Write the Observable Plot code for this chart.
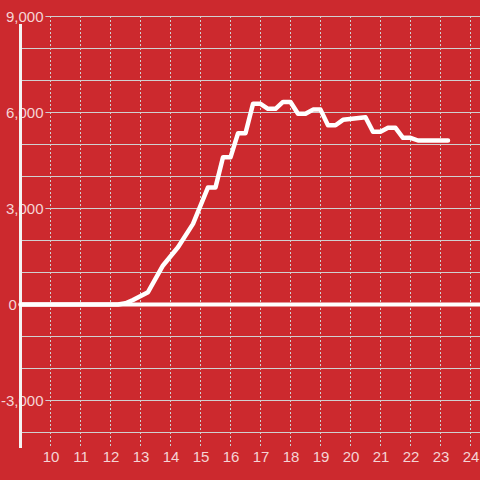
<!DOCTYPE html>
<html>
<head>
<meta charset="utf-8">
<script src="https://cdn.jsdelivr.net/npm/d3@7"></script>
<script src="https://cdn.jsdelivr.net/npm/@observablehq/plot@0.6"></script>
<style>
  html, body { margin: 0; padding: 0; background: #cc292e; }
  #chart svg { display: block; }
</style>
</head>
<body>
<div id="chart"></div>
<script>
// Series (hour of day -> value)
const hours = [9, 12.25, 12.5, 12.75, 13.25, 13.75, 14.25, 14.75, 15.25, 15.5, 15.75, 16, 16.25, 16.5,
  16.75, 17, 17.25, 17.5, 17.75, 18, 18.25, 18.5, 18.75, 19, 19.25, 19.5, 19.75, 20.5,
  20.75, 21, 21.25, 21.5, 21.75, 22, 22.25, 23.25];
const values = [0, 0, 40, 140, 385, 1220, 1790, 2520, 3660, 3660, 4600, 4600, 5350, 5350,
  6270, 6270, 6115, 6115, 6330, 6330, 5960, 5960, 6090, 6090, 5600, 5600, 5770, 5850,
  5400, 5400, 5520, 5520, 5210, 5210, 5125, 5125];

// Axes
const xTicks = [10, 11, 12, 13, 14, 15, 16, 17, 18, 19, 20, 21, 22, 23, 24];
const yGridValues = [-4000, -3000, -2000, -1000, 0, 1000, 2000, 3000, 4000, 5000, 6000, 7000, 8000, 9000];
const yTickValues = [9000, 6000, 3000, -3000];
const yTickLabels = ["9,000", "6,000", "3,000", "-3,000"];
const zeroLabel = ["0"];
const xDomain = [9, 24 + 1 / 3];
const yDomain = [-4500, 9000];
const axisTop = 8750;

const bg = "#cc292e";
const labelColor = "#f5d4d5";
const gridColor = "#d0d0d0";

const data = hours.map((h, i) => ({ h, v: values[i] }));

const chart = Plot.plot({
  width: 480,
  height: 480,
  marginLeft: 20,
  marginRight: 0,
  marginTop: 16,
  marginBottom: 32,
  style: { background: bg, fontFamily: "'Liberation Sans', Arial, sans-serif", fontSize: "15px" },
  x: { domain: xDomain, axis: null },
  y: { domain: yDomain, axis: null },
  marks: [
    Plot.gridX(xTicks, { stroke: gridColor, strokeOpacity: 1, strokeDasharray: "2,2" }),
    Plot.gridY(yGridValues, { stroke: gridColor, strokeOpacity: 1 }),
    Plot.text(yTickValues, {
      y: d => d, text: (d, i) => yTickLabels[i], frameAnchor: "left", textAnchor: "end",
      dx: 23, dy: 1, fill: labelColor, stroke: bg, strokeWidth: 5
    }),
    Plot.text(zeroLabel, {
      y: () => 0, text: d => d, frameAnchor: "left", textAnchor: "start",
      dx: -12, dy: 1, fill: labelColor
    }),
    Plot.text(xTicks, {
      x: d => d, text: d => String(d), frameAnchor: "bottom", dy: 13, dx: 0.5, fill: labelColor
    }),
    Plot.ruleY([0], { stroke: "white", strokeWidth: 4 }),
    Plot.ruleX([xDomain[0]], { y1: yDomain[0], y2: axisTop, stroke: "#f4f4f4", strokeWidth: 3 }),
    Plot.line(data, { x: "h", y: "v", stroke: "white", strokeWidth: 4.5 })
  ]
});
document.getElementById("chart").appendChild(chart);
</script>
</body>
</html>
